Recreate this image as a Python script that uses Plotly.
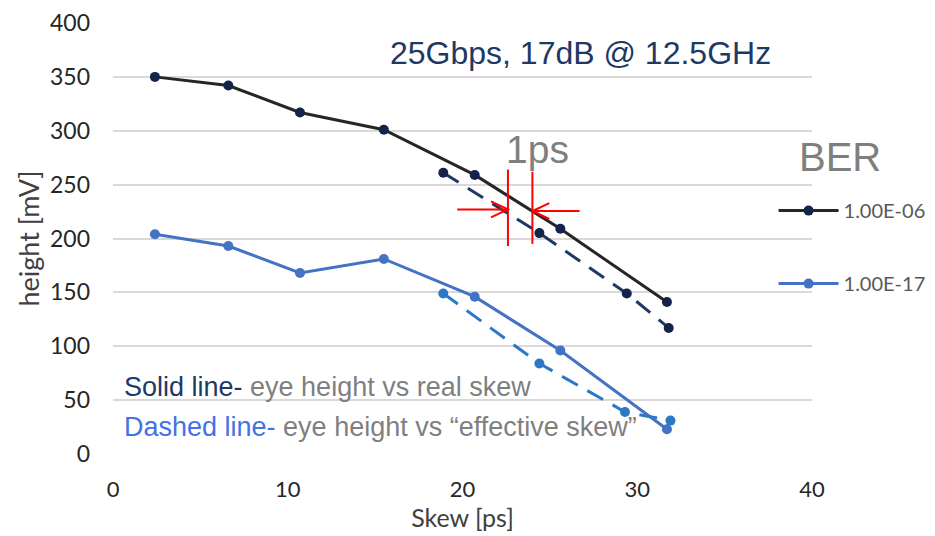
import plotly.graph_objects as go

# ---- data ----
skew_real = [2.4, 6.6, 10.7, 15.5, 20.7, 25.6, 31.7]
h_1e06_real = [350, 342, 317, 301, 259, 209, 141]
h_1e17_real = [204, 193, 168, 181, 146, 96, 23]

skew_eff_1e06 = [18.9, 24.4, 29.4, 31.8]
h_1e06_eff = [261, 205, 149, 117]
skew_eff_1e17 = [18.9, 24.4, 29.3, 31.9]
h_1e17_eff = [149, 84, 39, 31]

series_names = ["1.00E-06", "1.00E-17"]
x_ticks = [0, 10, 20, 30, 40]
y_ticks = [0, 50, 100, 150, 200, 250, 300, 350, 400]

BLACK = "#262626"
NAVY = "#13234a"
NAVY_DASH = "#1f3864"
BLUE = "#4472c4"
BLUE_DASH = "#2a78c6"
GRAY = "#7f7f7f"
SANS = "Liberation Sans, Arial, sans-serif"
CAL = "Lato, sans-serif"

fig = go.Figure()

fig.add_trace(go.Scatter(
    x=skew_real, y=h_1e06_real, mode="lines+markers", name=series_names[0],
    legendgroup="a", line=dict(color=BLACK, width=3),
    marker=dict(color=NAVY, size=10)))
fig.add_trace(go.Scatter(
    x=skew_eff_1e06, y=h_1e06_eff, mode="lines+markers", showlegend=False,
    line=dict(color=NAVY_DASH, width=3, dash="18px,11px"),
    marker=dict(color=NAVY, size=10)))
fig.add_trace(go.Scatter(
    x=skew_real, y=h_1e17_real, mode="lines+markers", name=series_names[1],
    legendgroup="b", line=dict(color=BLUE, width=3),
    marker=dict(color=BLUE, size=10)))
fig.add_trace(go.Scatter(
    x=skew_eff_1e17, y=h_1e17_eff, mode="lines+markers", showlegend=False,
    line=dict(color=BLUE_DASH, width=3, dash="18px,11px"),
    marker=dict(color=BLUE_DASH, size=10)))

# ---- red "1ps" marker lines and arrows (decoration) ----
red = dict(color="#ff0000", width=2)
shapes = []
x1, x2 = 22.6, 24.0
shapes.append(dict(type="line", x0=x1, x1=x1, y0=193, y1=264, xref="x", yref="y", line=red))
shapes.append(dict(type="line", x0=x2, x1=x2, y0=195, y1=262, xref="x", yref="y", line=red))
ya, yb = 227, 225.5
hx, hy = 0.97, 7.4
shapes.append(dict(type="line", x0=19.7, x1=x1, y0=ya, y1=ya, xref="x", yref="y", line=red))
shapes.append(dict(type="path", path=f"M{x1-hx},{ya+hy} L{x1},{ya} L{x1-hx},{ya-hy}",
                   xref="x", yref="y", line=red))
shapes.append(dict(type="line", x0=26.7, x1=x2, y0=yb, y1=yb, xref="x", yref="y", line=red))
shapes.append(dict(type="path", path=f"M{x2+hx},{yb+hy} L{x2},{yb} L{x2+hx},{yb-hy}",
                   xref="x", yref="y", line=red))

annotations = [
    dict(x=15.75, y=372, xref="x", yref="y", xanchor="left", yanchor="middle",
         text="25Gbps, 17dB @ 12.5GHz", showarrow=False,
         font=dict(family=SANS, size=32, color=NAVY_DASH)),
    dict(x=24.3, y=283, xref="x", yref="y", xanchor="center", yanchor="middle",
         text="1ps", showarrow=False, font=dict(family=SANS, size=39, color=GRAY)),
    dict(x=0.5, y=62, xref="x", yref="y", xanchor="left", yanchor="middle",
         text=f"<span style='color:{NAVY_DASH}'>Solid line-</span> eye height vs real skew",
         showarrow=False, font=dict(family=SANS, size=27, color=GRAY)),
    dict(x=0.5, y=25, xref="x", yref="y", xanchor="left", yanchor="middle",
         text="<span style='color:#4472e6'>Dashed line-</span> eye height vs \u201ceffective skew\u201d",
         showarrow=False, font=dict(family=SANS, size=27, color=GRAY)),
    dict(x=1.04, y=0.689, xref="paper", yref="paper", xanchor="center", yanchor="middle",
         text="BER", showarrow=False, font=dict(family=SANS, size=40, color=GRAY)),
]

fig.update_layout(
    width=935, height=536,
    margin=dict(l=105, r=126, t=15, b=90),
    paper_bgcolor="white", plot_bgcolor="white",
    shapes=shapes, annotations=annotations,
    showlegend=True,
    legend=dict(
        x=0.945, y=0.61, xanchor="left", yanchor="top",
        font=dict(family=CAL, size=20, color="#595959"),
        itemwidth=60,
        tracegroupgap=44, bgcolor="rgba(0,0,0,0)",
    ),
    xaxis=dict(
        range=[0, 40], tickvals=x_ticks, ticktext=[str(v) for v in x_ticks],
        showgrid=False, zeroline=False, showline=False, ticks="",
        automargin=False,
        ticklabelstandoff=20,
        tickfont=dict(family=CAL, size=22, color="#262626"),
        title=dict(text="Skew [ps]", standoff=2,
                   font=dict(family=CAL, size=25, color="#404040")),
    ),
    yaxis=dict(
        range=[0, 400], tickvals=y_ticks, ticktext=[str(v) for v in y_ticks],
        showgrid=True, gridcolor="#d9d9d9", gridwidth=1.5,
        zeroline=False, showline=False, ticks="",
        automargin=False,
        ticklabelstandoff=22,
        tickfont=dict(family=CAL, size=23, color="#262626"),
        title=dict(text="height [mV]", standoff=2,
                   font=dict(family=CAL, size=27, color="#404040")),
    ),
)

fig.write_html("out.html")
